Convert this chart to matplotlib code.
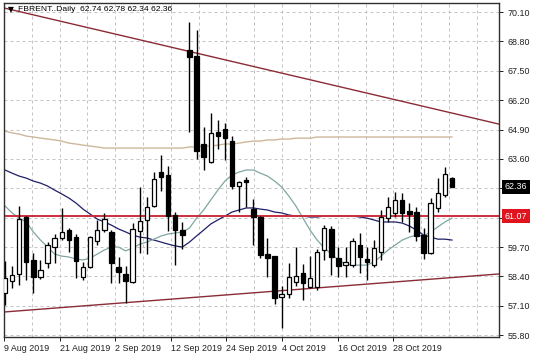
import matplotlib
matplotlib.use('Agg')
import matplotlib.pyplot as plt
import matplotlib.transforms as mtransforms
import numpy as np

plt.rcParams['font.family'] = ['Liberation Sans', 'DejaVu Sans']

# ---- data ----
opens = [57.67, 58.20, 58.51, 61.03, 59.13, 58.37, 58.99, 59.70, 60.10, 60.45,
         60.14, 58.37, 58.81, 59.97, 60.45, 60.37, 58.81, 58.51, 58.15, 60.41,
         60.90, 61.52, 63.02, 62.89, 61.12, 60.45, 68.42, 68.15, 64.26, 63.46,
         64.79, 64.92, 64.39, 62.40, 62.67, 61.38, 61.03, 59.39, 59.30, 57.49,
         57.62, 58.15, 58.55, 57.93, 57.93, 59.57, 60.50, 59.21, 58.90, 58.90,
         59.79, 59.17, 58.90, 59.48, 60.98, 61.21, 61.78, 61.29, 61.25, 60.23,
         59.43, 61.43, 62.00, 62.74]
highs = [59.08, 58.86, 61.52, 61.07, 59.44, 59.13, 59.92, 60.28, 61.43, 60.54,
         60.28, 59.04, 60.19, 60.90, 61.21, 60.45, 59.26, 58.86, 60.75, 62.36,
         61.91, 63.02, 63.77, 63.28, 61.25, 60.81, 69.66, 69.30, 65.01, 65.63,
         65.31, 65.19, 64.61, 62.62, 62.80, 61.82, 61.07, 60.10, 59.30, 57.97,
         58.99, 59.70, 58.95, 59.30, 59.61, 60.67, 60.63, 59.70, 59.70, 60.10,
         60.32, 59.70, 60.01, 61.34, 61.91, 62.13, 62.09, 61.65, 61.47, 60.54,
         61.87, 62.75, 63.24, 62.78]
lows = [57.13, 57.89, 58.02, 58.24, 57.67, 58.28, 58.77, 58.99, 60.01, 59.48,
        58.33, 58.24, 58.77, 59.79, 60.37, 58.11, 58.11, 57.22, 58.11, 59.44,
        59.39, 61.47, 62.18, 60.41, 58.90, 59.61, 64.79, 63.59, 63.11, 63.42,
        64.04, 63.55, 62.27, 61.25, 61.47, 59.79, 59.21, 58.37, 57.18, 56.12,
        57.44, 57.97, 57.36, 57.89, 57.80, 59.13, 58.46, 58.37, 58.37, 58.81,
        58.55, 58.24, 58.81, 59.13, 60.81, 61.03, 60.81, 60.37, 59.97, 59.17,
        59.39, 61.25, 61.91, 62.34]
closes = [58.33, 58.46, 60.94, 59.04, 58.37, 58.68, 59.79, 60.10, 60.37, 60.01,
          59.08, 58.81, 60.14, 60.45, 60.94, 58.99, 58.59, 58.20, 60.50, 60.85,
          61.47, 62.71, 62.80, 61.07, 60.45, 60.23, 68.11, 63.95, 63.68, 64.75,
          64.61, 64.52, 62.40, 62.58, 62.58, 61.03, 59.35, 59.21, 57.44, 57.62,
          58.37, 58.42, 58.11, 58.33, 59.48, 60.54, 59.26, 58.86, 59.04, 59.97,
          59.26, 59.04, 59.66, 61.03, 61.47, 61.78, 61.21, 61.16, 60.19, 59.43,
          61.65, 62.09, 62.93, 62.36]

ma_fast = [61.52, 61.21, 60.98, 60.81, 60.37, 60.01, 59.70, 59.39, 59.30, 59.26,
           59.17, 59.13, 59.21, 59.39, 59.57, 59.70, 59.70, 59.53, 59.66, 59.83,
           59.92, 60.05, 60.19, 60.28, 60.32, 60.37, 60.54, 60.98, 61.34, 61.78,
           62.22, 62.62, 62.89, 63.02, 63.11, 63.11, 62.97, 62.84, 62.62, 62.36,
           61.96, 61.52, 60.98, 60.45, 60.01, 59.66, 59.39, 59.13, 58.95, 58.90,
           58.90, 58.90, 59.04, 59.30, 59.57, 59.79, 60.01, 60.14, 60.23, 60.19,
           60.37, 60.59, 60.81, 60.98]
ma_mid = [63.11, 62.97, 62.84, 62.75, 62.62, 62.53, 62.40, 62.22, 62.05, 61.87,
          61.65, 61.38, 61.16, 60.94, 60.81, 60.67, 60.50, 60.37, 60.23, 60.14,
          60.10, 60.01, 59.92, 59.83, 59.75, 59.70, 59.92, 60.19, 60.45, 60.72,
          60.90, 61.07, 61.25, 61.34, 61.43, 61.43, 61.38, 61.34, 61.25, 61.21,
          61.12, 61.07, 61.07, 61.03, 61.03, 61.07, 61.07, 61.07, 61.07, 61.07,
          61.03, 60.98, 60.90, 60.81, 60.81, 60.81, 60.76, 60.63, 60.45, 60.23,
          60.14, 60.05, 60.05, 60.01]
ma_slow = [64.83, 64.75, 64.70, 64.61, 64.57, 64.52, 64.48, 64.44, 64.39, 64.30,
           64.26, 64.21, 64.17, 64.13, 64.08, 64.08, 64.08, 64.08, 64.08, 64.08,
           64.08, 64.08, 64.08, 64.08, 64.08, 64.08, 64.13, 64.13, 64.17, 64.17,
           64.21, 64.26, 64.26, 64.30, 64.35, 64.39, 64.39, 64.44, 64.44, 64.48,
           64.48, 64.52, 64.52, 64.52, 64.57, 64.57, 64.57, 64.57, 64.57, 64.57,
           64.57, 64.57, 64.57, 64.57, 64.57, 64.57, 64.57, 64.57, 64.57, 64.57,
           64.57, 64.57, 64.57, 64.57]

date_labels = ['9 Aug 2019', '21 Aug 2019', '2 Sep 2019', '12 Sep 2019',
               '24 Sep 2019', '4 Oct 2019', '16 Oct 2019', '28 Oct 2019']
price_ticks = [70.10, 68.80, 67.50, 66.20, 64.90, 63.60, 62.30, 61.00,
               59.70, 58.40, 57.10, 55.80]
res_level = 61.07
last_price = 62.36
upper_trend = [(0, 70.27), (63, 65.63)]
lower_trend = [(0, 56.83), (63, 58.35)]
title = 'FBRENT..Daily  62.74 62.78 62.34 62.36'

# ---- figure ----
W, H = 536, 358
fig = plt.figure(figsize=(W / 100, H / 100), dpi=100)
fig.patch.set_facecolor('white')
ax = fig.add_axes([4 / W, 1 - 337 / H, 495 / W, 334 / H])
ax.set_xlim(-0.14, 69.63)
ax.set_ylim(55.72, 70.50)

px = 0.72
fs = 6.4
n = len(opens)
idx = np.arange(n)
o = np.array(opens); c = np.array(closes)
hi = np.array(highs); lo = np.array(lows)

# grid
grid_step = 3.92
vgrid = -0.14 + grid_step * np.arange(1, 18)
for gx in vgrid:
    ax.axvline(gx, color='#c4c4c4', lw=px, ls=(0, (3, 3)), zorder=0)
for gy in price_ticks:
    ax.axhline(gy, color='#c4c4c4', lw=px, ls=(0, (3, 3)), zorder=0)

# moving averages
ax.plot(idx, ma_slow, color='#cdb89c', lw=1.0, zorder=1)
ax.plot(idx, ma_mid, color='#1f1f66', lw=0.9, zorder=1)
ax.plot(idx, ma_fast, color='#7fa6a2', lw=0.9, zorder=1)

# trend lines & level
ax.axline(upper_trend[0], upper_trend[1], color='#8a2b35', lw=1.0, zorder=1)
ax.axline(lower_trend[0], lower_trend[1], color='#8a2b35', lw=1.0, zorder=1)
ax.axhline(res_level, color='#cc2e3c', lw=1.4, zorder=1)

# candles
ax.vlines(idx, lo, hi, color='black', lw=1.0, zorder=3)
bottoms = np.minimum(o, c)
heights = np.maximum(np.abs(c - o), 0.06)
up = c >= o
ax.bar(idx[up], heights[up], bottom=bottoms[up], width=0.62,
       facecolor='white', edgecolor='black', linewidth=0.9, zorder=4)
ax.bar(idx[~up], heights[~up], bottom=bottoms[~up], width=0.62,
       facecolor='black', edgecolor='black', linewidth=0.9, zorder=4)

# axes styling
for s in ax.spines.values():
    s.set_color('#303030')
    s.set_linewidth(1.0)
ax.yaxis.tick_right()
ax.set_yticks(price_ticks)
hidden = {62.30, 61.00}  # covered by the price boxes in the reference
ax.set_yticklabels(['' if v in hidden else f'{v:.2f}' for v in price_ticks])
ax.tick_params(axis='y', length=3, width=0.7, pad=3, labelsize=fs,
               colors='#202020')
label_pos = -0.14 + grid_step * 2 * np.arange(len(date_labels))
ax.set_xticks(label_pos)
ax.set_xticklabels(date_labels)
ax.tick_params(axis='x', length=3, width=0.7, pad=2, labelsize=fs,
               colors='#202020')
for lab in ax.get_xticklabels():
    lab.set_horizontalalignment('left')

trans = mtransforms.blended_transform_factory(ax.transAxes, ax.transData)
ax.text(1.012, last_price, f'{last_price:.2f}', transform=trans, ha='left',
        va='center', fontsize=fs, color='white', clip_on=False, zorder=10,
        bbox=dict(boxstyle='square,pad=0.32', fc='black', ec='none'))
ax.text(1.012, res_level, f'{res_level:.2f}', transform=trans, ha='left',
        va='center', fontsize=fs, color='white', clip_on=False, zorder=10,
        bbox=dict(boxstyle='square,pad=0.32', fc='#e0141e', ec='none'))

ax.annotate('\u25bc', xy=(0, 1), xycoords='axes fraction', xytext=(3, -5),
            textcoords='offset points', fontsize=5.5, ha='left', va='center',
            color='black', family='DejaVu Sans', zorder=10)
ax.annotate(title, xy=(0, 1), xycoords='axes fraction', xytext=(10, -5),
            textcoords='offset points', fontsize=6.1, ha='left',
            va='center', color='black', zorder=10)

fig.savefig('out.png', dpi=100, facecolor='white')
